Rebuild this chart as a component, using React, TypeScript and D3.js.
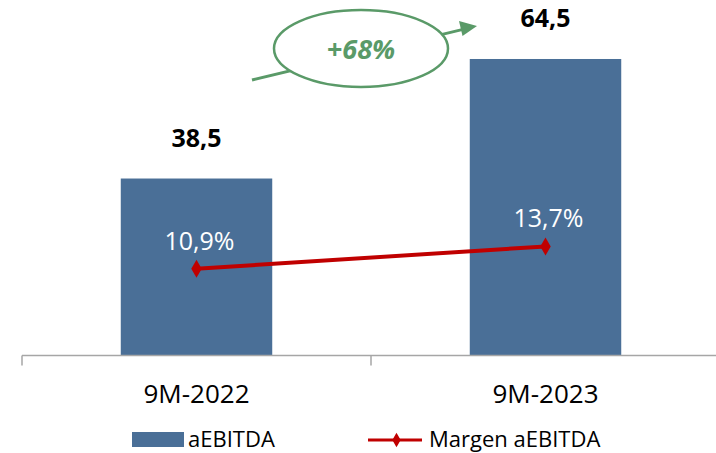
import React from "react";
import * as d3 from "d3";

const categories = ["9M-2022", "9M-2023"];
const ebitda = [38.5, 64.5];
const ebitdaLabels = ["38,5", "64,5"];
const margin = [10.9, 13.7];
const marginLabels = ["10,9%", "13,7%"];
const growthLabel = "+68%";
const legendLabels = ["aEBITDA", "Margen aEBITDA"];

const W = 716;
const H = 453;
const FONT = "'Open Sans', Calibri, sans-serif";
const BAR = "#4a6f97";
const RED = "#c00000";
const GREEN = "#5a9a68";

export default function App() {
  const x = d3.scaleBand<string>().domain(categories).range([22, 720]).paddingInner(0).paddingOuter(0);
  const bw = x.bandwidth();
  const barW = bw * 0.434;
  const y = d3.scaleLinear().domain([0, 70]).range([355.5, 355.5 - 70 * 4.597]);
  const y2 = d3.scaleLinear().domain([0, 40]).range([355.5, 355.5 - 40 * 7.96]);
  const cx = (c: string) => (x(c) as number) + bw / 2;

  const line = d3
    .line<number>()
    .x((_, i) => cx(categories[i]))
    .y((d) => y2(d));

  const diamond = d3.symbol().type(d3.symbolDiamond).size(95)();
  const baseY = y(0);

  return (
    <svg width={W} height={H} style={{ position: "absolute", left: 0, top: 0, background: "#fff" }}>
      {/* bars */}
      {categories.map((c, i) => (
        <rect key={c} x={cx(c) - barW / 2} y={y(ebitda[i])} width={barW} height={baseY - y(ebitda[i])} fill={BAR} />
      ))}
      {/* axis */}
      <line x1={22} x2={W} y1={baseY} y2={baseY} stroke="#a6a6a6" strokeWidth={1.5} />
      {categories.map((c) => x(c) as number).map((t, i) => (
        <line key={i} x1={t} x2={t} y1={baseY} y2={baseY + 10} stroke="#a6a6a6" strokeWidth={1.5} />
      ))}
      {categories.map((c) => (
        <text key={c} x={cx(c)} y={403} textAnchor="middle" fontFamily={FONT} fontSize={26} fill="#000">
          {c}
        </text>
      ))}
      {/* bar value labels */}
      {categories.map((c, i) => (
        <text key={c} x={cx(c)} y={y(ebitda[i]) - 32} textAnchor="middle" fontFamily={FONT} fontSize={25} fontWeight="bold" fill="#000">
          {ebitdaLabels[i]}
        </text>
      ))}
      {/* margin line */}
      <path d={line(margin) || ""} fill="none" stroke={RED} strokeWidth={4} />
      {margin.map((m, i) => (
        <path key={i} d={diamond || ""} transform={`translate(${cx(categories[i])},${y2(m)})`} fill={RED} />
      ))}
      {margin.map((m, i) => (
        <text key={i} x={cx(categories[i]) + 3} y={y2(m) - 19} textAnchor="middle" fontFamily={FONT} fontSize={25} fill="#fff">
          {marginLabels[i]}
        </text>
      ))}
      {/* growth annotation */}
      <line x1={252} y1={80} x2={462} y2={29.6} stroke={GREEN} strokeWidth={3} />
      <path d="M477,26 L459,21 L462.5,36 Z" fill={GREEN} />
      <ellipse cx={361} cy={48.5} rx={87} ry={38.5} fill="#fff" stroke={GREEN} strokeWidth={2.5} />
      <text x={361} y={58.5} textAnchor="middle" fontFamily={FONT} fontSize={27} fontWeight="bold" fontStyle="italic" fill={GREEN}>
        {growthLabel}
      </text>
      {/* legend */}
      <rect x={132} y={432} width={52} height={15} fill={BAR} />
      <text x={188} y={447} fontFamily={FONT} fontSize={22} fill="#000">
        {legendLabels[0]}
      </text>
      <line x1={368} x2={422} y1={440} y2={440} stroke={RED} strokeWidth={3} />
      <path d={d3.symbol().type(d3.symbolDiamond).size(60)() || ""} transform="translate(396.5,440)" fill={RED} />
      <text x={429} y={447} fontFamily={FONT} fontSize={22} fill="#000">
        {legendLabels[1]}
      </text>
    </svg>
  );
}
